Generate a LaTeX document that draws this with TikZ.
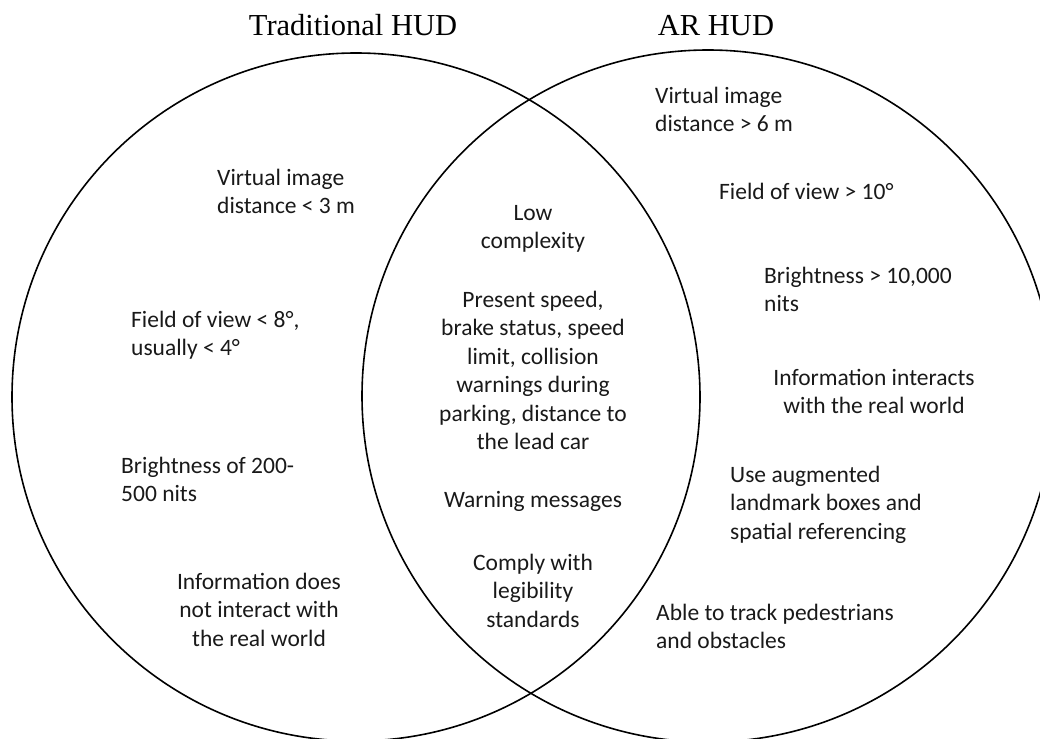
\documentclass[tikz,border=0pt]{standalone}
\usepackage{fontspec}
\setmainfont{Carlito}
\newfontfamily\headfont{Liberation Serif}
\begin{document}
\begin{tikzpicture}[x=1pt,y=-1pt,
  heading/.style={font=\headfont\fontsize{30.5}{36}\selectfont, anchor=base, inner sep=0pt},
  item/.style={font=\fontsize{23.5}{28.5}\selectfont, inner sep=0pt, text=black!90},
  itemL/.style={item, align=left, anchor=north west},
  itemC/.style={item, align=center, anchor=north},
  ring/.style={draw=black, line width=1.6pt}]
\useasboundingbox (0,0) rectangle (1040,738);

% the two sets
\draw[ring] (356,397) circle[radius=344pt];
\draw[ring] (708,396) circle[radius=346pt];

% set headings
\node[heading] (hl) at (353,36) {Traditional HUD};
\node[heading] (hr) at (716,36) {AR HUD};

% traditional HUD only
\node[itemL] (l1) at (217,165) {\strut Virtual image\\distance < 3 m};
\node[itemL] (l2) at (131,307) {\strut Field of view < 8°,\\usually < 4°};
\node[itemL] (l3) at (121,453) {\strut Brightness of 200-\\500 nits};
\node[itemC] (l4) at (259,569) {\strut Information does\\not interact with\\the real world};

% shared features
\node[itemC] (c1) at (533,200) {\strut Low\\complexity};
\node[itemC] (c2) at (533,287) {\strut Present speed,\\brake status, speed\\limit, collision\\warnings during\\parking, distance to\\the lead car};
\node[itemC] (c3) at (533,487) {\strut Warning messages};
\node[itemC] (c4) at (533,550) {\strut Comply with\\legibility\\standards};

% AR HUD only
\node[itemL] (r1) at (655,83) {\strut Virtual image\\distance > 6 m};
\node[itemL] (r2) at (719,179) {\strut Field of view > 10°};
\node[itemL] (r3) at (764,263) {\strut Brightness > 10,000\\nits};
\node[itemC] (r4) at (874,365) {\strut Information interacts\\with the real world};
\node[itemL] (r5) at (730,462) {\strut Use augmented\\landmark boxes and\\spatial referencing};
\node[itemL] (r6) at (656,600) {\strut Able to track pedestrians\\and obstacles};
\end{tikzpicture}
\end{document}
